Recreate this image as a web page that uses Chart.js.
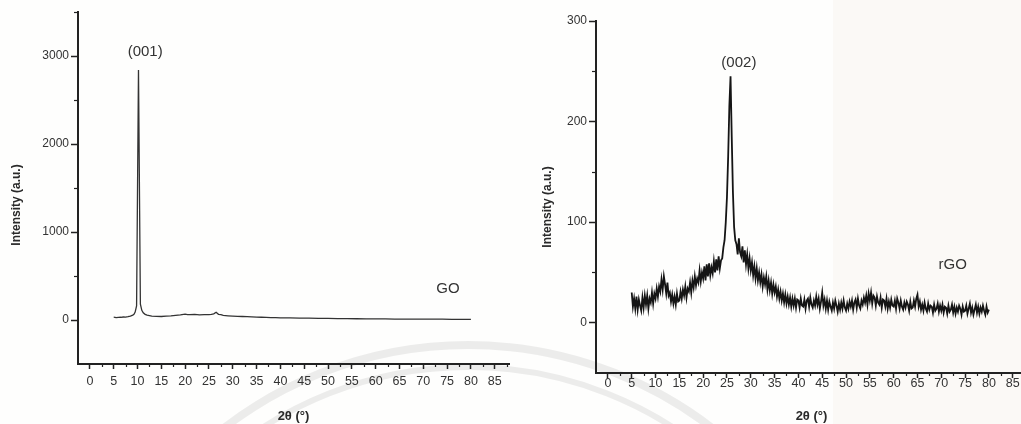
<!DOCTYPE html>
<html>
<head>
<meta charset="utf-8">
<script src="https://cdn.jsdelivr.net/npm/chart.js@4.4.1/dist/chart.umd.min.js"></script>
<style>
  html, body { margin:0; padding:0; width:1021px; height:424px; overflow:hidden; background:#fefefd; position:relative; }
  .band { position:absolute; left:833px; top:0; width:188px; height:424px; background:#fbf9f6; }
  .ring { position:absolute; border-radius:50%; border-style:solid; border-color:rgba(0,0,0,.07); box-sizing:border-box; }
  #goChart { position:absolute; left:0; top:0; }
  #rgoChart { position:absolute; left:530px; top:0; }
</style>
</head>
<body>
<div class="band"></div>
<div class="ring" style="left:64px;top:341px;width:808px;height:808px;border-width:8px"></div>
<div class="ring" style="left:87px;top:364px;width:762px;height:762px;border-width:6px"></div>
<canvas id="goChart" width="520" height="424"></canvas>
<canvas id="rgoChart" width="500" height="424"></canvas>
<script>
// 1. DATOS
const goX = [5,5.5,6,6.5,7,7.5,8,8.5,9, 9.25,9.5,9.8,10.2,10.6,10.9,
  11.2,11.6,12,12.5,13, 14,15,16,17,18,19,20, 20.5,21,22,23,24,25, 25.5,26,26.5,27,27.5,28,
  29,30,31,32,33,34,35,36,37,38,39,40,
  42,44,46,48,50,52,54,56,58,60,62,64,66,68,70,72,74,76,78,80];
const goY = [32,28,30,31,34,33,38,45,55, 65,90,160,2840,180,110,
  82,64,55,50,45, 42,40,44,47,52,58,66, 62,60,63,58,60,62, 64,70,88,65,60,52,
  48,45,42,40,38,36,33,31,30,28,27,25,
  24,22,21,19,18,16,15,14,13,12,12,11,11,10,10,9,9,8,8,8];

// rGO: una lectura cada 0.25° desde 5°
const rgoStart = 5, rgoStep = 0.25;
const rgoY = [
  30,16,24,14, 26,13,23,17, 12,25,15,27, 18,27,14,24, 20,30,19,29,
  24,34,26,36, 31,43,33,46, 38,29,40,27, 30,21,28,19, 26,18,29,21,
  22,31,24,33, 27,36,25,34, 31,40,30,42, 35,46,37,44, 40,52,41,50,
  44,56,42,58, 46,59,47,55, 49,61,50,63, 52,66,54,62, 64,75,82,100,
  125,165,215,245, 185,130,95,82, 78,68,84,70, 66,76,60,72, 58,68,54,64,
  52,60,47,56, 44,54,42,50, 40,48,36,45, 38,46,33,42, 32,40,29,38,
  30,36,26,33, 24,31,22,29, 20,28,19,26, 18,25,16,24, 17,24,15,23,
  22,15,24,17, 16,23,14,22, 24,16,25,18, 15,22,17,26, 18,24,14,21,
  30,17,23,14, 22,13,21,16, 12,20,14,22, 17,11,19,13, 20,14,22,15,
  12,19,14,21, 16,22,13,20, 23,15,24,17, 14,22,18,25, 20,27,18,29,
  22,30,19,27, 25,17,26,20, 18,25,15,23, 22,16,24,14, 21,15,23,17,
  16,22,14,24, 20,14,22,16, 13,20,15,21, 18,12,21,14, 15,22,16,24,
  28,16,21,13, 18,12,20,14, 11,19,13,17, 16,10,18,12, 14,19,11,17,
  12,18,10,16, 15,9,17,11, 13,18,10,16, 9,15,11,17, 14,8,16,11,
  12,17,9,14, 19,10,15,8, 13,18,10,16, 9,15,11,17, 12,8,16,10,
  13
];

const xMajor = [0,5,10,15,20,25,30,35,40,45,50,55,60,65,70,75,80,85];
const xMinor = [2.5,7.5,12.5,17.5,22.5,27.5,32.5,37.5,42.5,47.5,52.5,57.5,62.5,67.5,72.5,77.5,82.5,87.5];
const goYMajor = [0,1000,2000,3000];
const goYMinor = [500,1500,2500,3500];
const rgoYMajor = [0,100,200,300];
const rgoYMinor = [50,150,250];

const goNotes = [{ text:'(001)', x:11.6, y:3050, size:15 }, { text:'GO', x:75.2, y:350, size:15 }];
const rgoNotes = [{ text:'(002)', x:27.5, y:258, size:15 }, { text:'rGO', x:72.4, y:58, size:15 }];

const FONT = '"Liberation Sans", Arial, sans-serif';
const INK = '#222';

// 2. PLUGIN: ticks menores, rótulos y título del eje Y
const extras = {
  id: 'extras',
  afterDraw(chart, args, o) {
    const { ctx, chartArea: ca, scales: { x, y } } = chart;
    ctx.save();
    ctx.strokeStyle = INK; ctx.lineWidth = 1.2;
    o.xMinor.forEach(v => {
      const px = Math.round(x.getPixelForValue(v)) + 0.5;
      ctx.beginPath(); ctx.moveTo(px, ca.bottom); ctx.lineTo(px, ca.bottom + 3); ctx.stroke();
    });
    o.yMinor.forEach(v => {
      const py = Math.round(y.getPixelForValue(v)) + 0.5;
      ctx.beginPath(); ctx.moveTo(ca.left, py); ctx.lineTo(ca.left - 4, py); ctx.stroke();
    });
    ctx.fillStyle = '#333'; ctx.textAlign = 'center'; ctx.textBaseline = 'middle';
    o.notes.forEach(n => {
      ctx.font = n.size + 'px ' + FONT;
      ctx.fillText(n.text, x.getPixelForValue(n.x), y.getPixelForValue(n.y));
    });
    ctx.translate(o.titleX, (ca.top + ca.bottom) / 2 + o.titleShift);
    ctx.rotate(-Math.PI / 2);
    ctx.font = 'bold 12px ' + FONT;
    ctx.fillStyle = '#2a2a2a';
    ctx.fillText('Intensity (a.u.)', 0, 0);
    ctx.restore();
  }
};

// 3. GRÁFICOS
function makeChart(id, cfg) {
  return new Chart(document.getElementById(id), {
    type: 'line',
    data: { datasets: [{ data: cfg.points, borderColor: cfg.color, borderWidth: cfg.lw, pointRadius: 0, tension: 0, fill: false }] },
    options: {
      responsive: false, animation: false, events: [],
      layout: { padding: { left: 0, top: cfg.top, right: cfg.right, bottom: 0 } },
      plugins: {
        legend: { display: false }, tooltip: { enabled: false },
        extras: { xMinor, yMinor: cfg.yMinor, notes: cfg.notes, titleX: cfg.titleX, titleShift: cfg.titleShift }
      },
      scales: {
        x: {
          type: 'linear', min: -2.5, max: 88,
          afterBuildTicks: s => { s.ticks = xMajor.map(v => ({ value: v })); },
          afterFit: s => { s.height = cfg.xh; },
          grid: { display: true, drawOnChartArea: false, drawTicks: true, tickLength: 5, tickColor: INK, tickWidth: 1.5 },
          border: { display: true, color: INK, width: 2 },
          ticks: { color: '#333', font: { family: FONT, size: 12.5 }, padding: cfg.xpad, maxRotation: 0, autoSkip: false, callback: v => String(v) },
          title: { display: true, text: '2θ (°)', color: '#2a2a2a', font: { family: FONT, size: 13, weight: 'bold' }, padding: { top: 0, bottom: 0 } }
        },
        y: {
          type: 'linear', min: cfg.ymin, max: cfg.ymax,
          afterBuildTicks: s => { s.ticks = cfg.yMajor.map(v => ({ value: v })); },
          afterFit: s => { s.width = cfg.yw; },
          grid: { display: true, drawOnChartArea: false, drawTicks: true, tickLength: 7, tickColor: INK, tickWidth: 1.5 },
          border: { display: true, color: INK, width: 2 },
          ticks: { color: '#333', font: { family: FONT, size: 12 }, padding: 2, callback: v => String(v) }
        }
      }
    },
    plugins: [extras]
  });
}

makeChart('goChart', {
  points: goX.map((v, i) => ({ x: v, y: goY[i] })), color: '#333', lw: 1.3,
  ymin: -500, ymax: 3500, yMajor: goYMajor, yMinor: goYMinor, notes: goNotes,
  top: 12, right: 11, yw: 78, xh: 60, xpad: 5, titleX: 17, titleShift: 17
});

makeChart('rgoChart', {
  points: rgoY.map((v, i) => ({ x: rgoStart + i * rgoStep, y: v })), color: '#151515', lw: 1.8,
  ymin: -50, ymax: 300, yMajor: rgoYMajor, yMinor: rgoYMinor, notes: rgoNotes,
  top: 21, right: 3, yw: 66, xh: 51, xpad: -2, titleX: 18, titleShift: 10
});
</script>
</body>
</html>
